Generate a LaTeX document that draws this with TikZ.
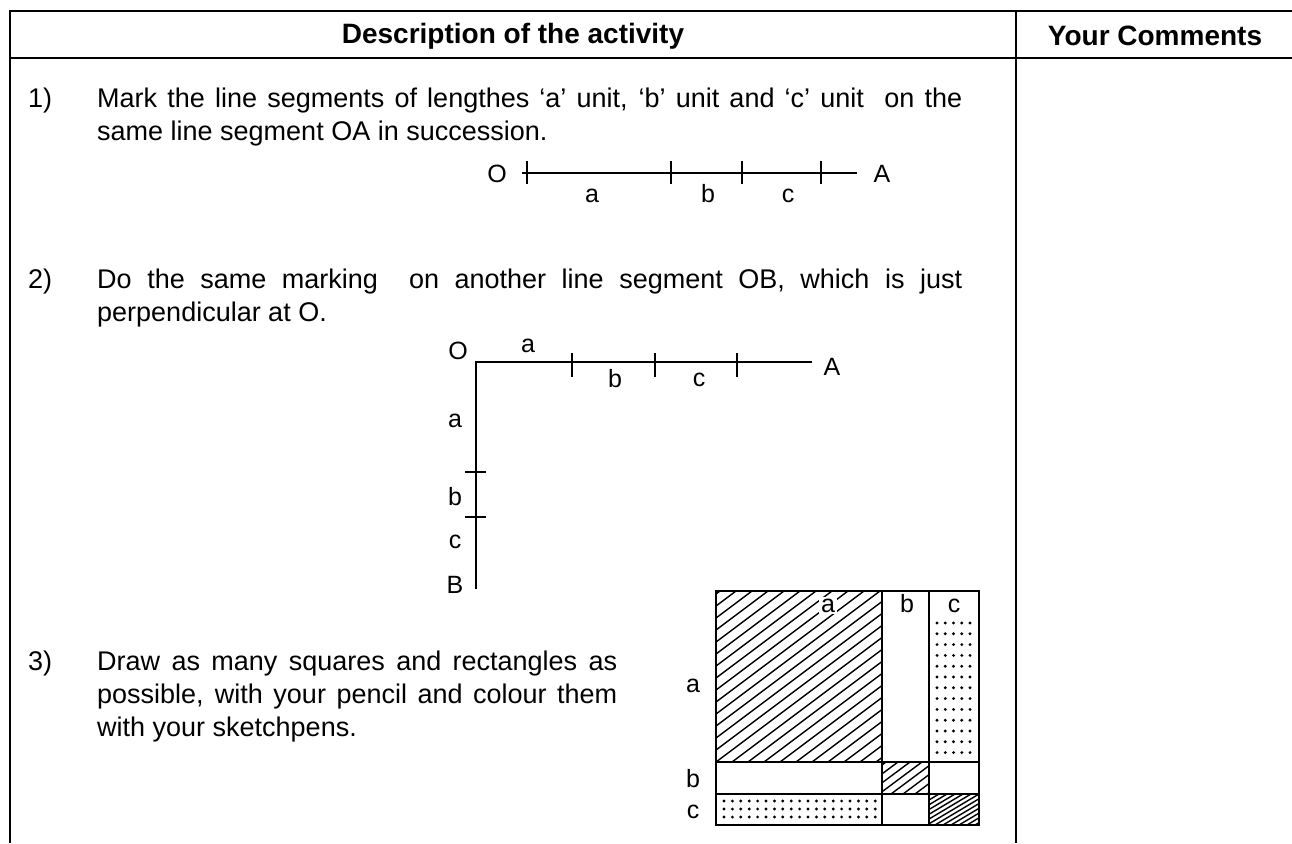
\documentclass[tikz,border=0pt]{standalone}
\usepackage{fontspec}
\setmainfont{Liberation Sans}
\begin{document}
\begin{tikzpicture}[x=1pt,y=-1pt,
  tbl/.style={line width=2pt},
  figline/.style={line width=2.6pt},
  cellline/.style={line width=2.6pt},
  hatch/.style={line width=1.4pt},
  lbl/.style={font=\fontsize{25}{30}\selectfont, inner sep=0pt, anchor=base},
  body/.style={font=\fontsize{27}{33}\selectfont, inner sep=0pt, anchor=base west},
  head/.style={font=\fontsize{28}{33}\selectfont\bfseries, inner sep=0pt},
  dot/.style={fill=black}
]
\useasboundingbox (0,0) rectangle (1292,843);
% ---------- table ----------
\coordinate (tl) at (10,11);
\coordinate (bl) at (10,843);
\coordinate (tr) at (1292,11);
\coordinate (hl) at (10,58);
\coordinate (hr) at (1292,58);
\coordinate (dt) at (1016,11);
\coordinate (db) at (1016,843);
\draw[tbl] (bl) -- (tl) -- (tr);
\draw[tbl] (hl) -- (hr);
\draw[tbl] (dt) -- (db);
\node[head] (h1) at (513,36) {Description of the activity};
\node[head] (h2) at (1155,36) {Your Comments};
% ---------- item 1 ----------
\node[body] (n1) at (28,107) {1)};
\node[body] (t1a) at (97,107) {\makebox[865pt][s]{Mark the line segments of lengthes ‘a’ unit, ‘b’ unit and ‘c’ unit\ \ on the}};
\node[body] (t1b) at (97,140) {same line segment OA in succession.};
% figure 1
\coordinate (f1s) at (522,173);
\coordinate (f1e) at (857,173);
\draw[figline] (f1s) -- (f1e);
\foreach \x in {527,671,742,821} \draw[figline] (\x,161) -- (\x,184);
\node[lbl] (f1O) at (497,182) {O};
\node[lbl] (f1A) at (882,182) {A};
\node[lbl] (f1a) at (592,202) {a};
\node[lbl] (f1b) at (708,202) {b};
\node[lbl] (f1c) at (788,202) {c};
% ---------- item 2 ----------
\node[body] (n2) at (28,288) {2)};
\node[body] (t2a) at (97,288) {\makebox[865pt][s]{Do the same marking\ \ on another line segment OB, which is just}};
\node[body] (t2b) at (97,321) {perpendicular at O.};
% figure 2
\coordinate (f2o) at (476,362);
\coordinate (f2a) at (812,362);
\coordinate (f2b) at (476,589);
\draw[figline] (f2a) -- (f2o) -- (f2b);
\foreach \x in {572,655,737} \draw[figline] (\x,353) -- (\x,377);
\foreach \y in {472,517} \draw[figline] (465,\y) -- (486,\y);
\node[lbl] (f2O) at (458,359) {O};
\node[lbl] (f2A) at (832,375) {A};
\node[lbl] (f2ta) at (528,352) {a};
\node[lbl] (f2tb) at (615,387) {b};
\node[lbl] (f2tc) at (699,386) {c};
\node[lbl] (f2va) at (455,427) {a};
\node[lbl] (f2vb) at (455,505) {b};
\node[lbl] (f2vc) at (455,548) {c};
\node[lbl] (f2B) at (455,593) {B};
% ---------- item 3 ----------
\node[body] (n3) at (28,670) {3)};
\node[body] (t3a) at (97,670) {\makebox[520pt][s]{Draw as many squares and rectangles as}};
\node[body] (t3b) at (97,703) {\makebox[520pt][s]{possible, with your pencil and colour them}};
\node[body] (t3c) at (97,736) {with your sketchpens.};
% grid figure
\begin{scope}
\clip (716,591) rectangle (882,762);
\foreach \k in {0,...,26} \draw[hatch] (720+16*\k-228,762) -- (720+16*\k,591);
\end{scope}
\begin{scope}
\clip (882,762) rectangle (929,794);
\foreach \k in {0,...,9} \draw[hatch] (886+12*\k-43,794) -- (886+12*\k,762);
\end{scope}
\begin{scope}
\clip (929,794) rectangle (979,825);
\foreach \k in {0,...,14} \draw[hatch] (931+8*\k-52,825) -- (931+8*\k,794);
\end{scope}
\foreach \i in {0,...,4} \foreach \j in {0,...,12} \fill[dot] (937+\i*8.25,623+\j*10.8) circle (1.6);
\foreach \i in {0,...,18} \foreach \j in {0,1,2} \fill[dot] (724+\i*8.4,801+\j*8) circle (1.6);
\draw[cellline] (716,591) rectangle (979,825);
\draw[cellline] (882,591) -- (882,825);
\draw[cellline] (929,591) -- (929,825);
\draw[cellline] (716,762) -- (979,762);
\draw[cellline] (716,794) -- (979,794);
\node[lbl, fill=white, inner sep=2pt] (ga) at (828,612) {a};
\node[lbl] (gb) at (907,612) {b};
\node[lbl] (gc) at (954,612) {c};
\node[lbl] (gra) at (693,692) {a};
\node[lbl] (grb) at (693,787) {b};
\node[lbl] (grc) at (693,818) {c};
\end{tikzpicture}
\end{document}
